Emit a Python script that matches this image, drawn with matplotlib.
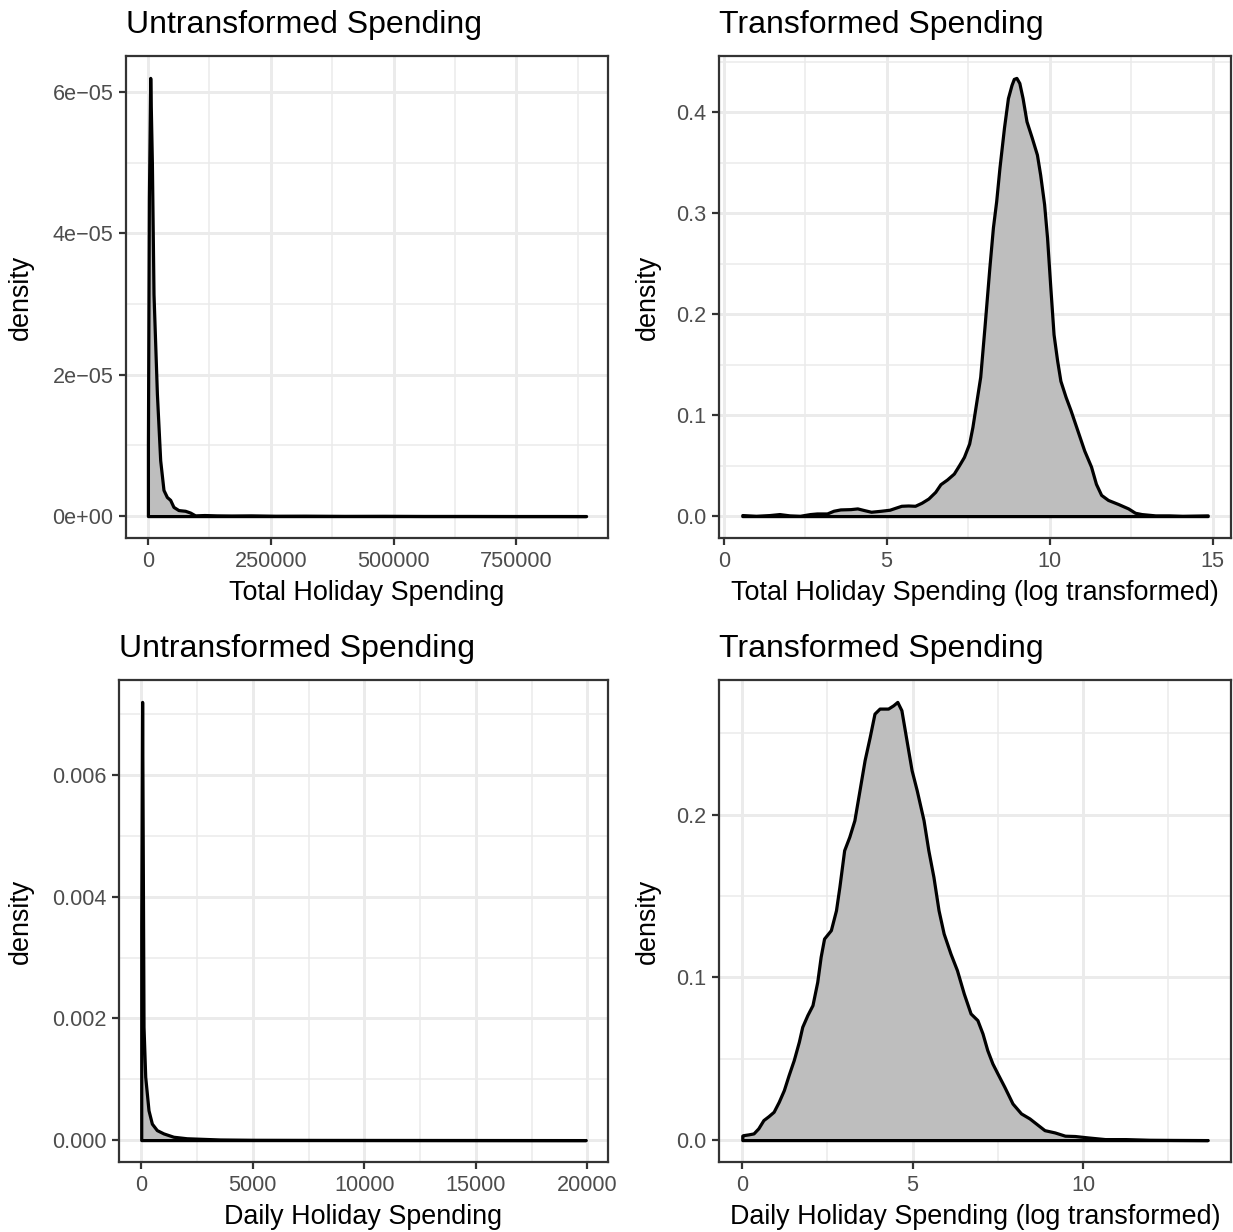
import matplotlib
matplotlib.use("Agg")
import matplotlib.pyplot as plt
import matplotlib.transforms as mtransforms
from matplotlib.ticker import MultipleLocator, FixedLocator, FixedFormatter

plt.rcParams['font.family'] = ['Liberation Sans', 'DejaVu Sans']

# ---------------- data (density curves) ----------------
total_raw_x = [0, 2000, 4700, 8100, 11400, 18300, 25000, 31700, 38600, 45300, 52000,
               62200, 75800, 86000, 96100, 115000, 140000, 170000, 210000, 260000,
               320000, 400000, 480000, 560000, 650000, 750000, 830000, 892000]
total_raw_y = [1.0e-5, 4.5e-5, 6.2e-5, 5.0e-5, 3.14e-5, 1.73e-5, 0.79e-5, 0.37e-5, 0.27e-5,
               0.23e-5, 0.13e-5, 0.085e-5, 0.075e-5, 0.05e-5, 0.01e-5, 0.015e-5, 0.01e-5,
               0.008e-5, 0.01e-5, 0.005e-5, 0.006e-5, 0.003e-5, 0.004e-5, 0.002e-5,
               0.002e-5, 0.001e-5, 0.001e-5, 0.0005e-5]

total_log_x = [0.57, 0.99, 1.40, 1.71, 2.02, 2.34, 2.65, 2.86, 3.17, 3.37, 3.58, 3.89,
               4.10, 4.31, 4.52, 4.83, 5.09, 5.30, 5.45, 5.66, 5.87, 6.07, 6.28, 6.49,
               6.65, 6.85, 7.06, 7.22, 7.37, 7.53, 7.63, 7.74, 7.87, 8.00, 8.15, 8.26,
               8.36, 8.46, 8.60, 8.72, 8.83, 8.90, 8.98, 9.07, 9.17, 9.29, 9.45, 9.61,
               9.71, 9.83, 9.92, 10.02, 10.12, 10.23, 10.33, 10.49, 10.64, 10.85, 11.06,
               11.27, 11.42, 11.58, 11.79, 12.10, 12.41, 12.62, 12.82, 13.24, 13.66,
               14.07, 14.85]
total_log_y = [0.001, 0.0003, 0.001, 0.002, 0.0007, 0.0003, 0.002, 0.0026, 0.0026, 0.0053,
               0.0066, 0.0069, 0.0076, 0.0059, 0.0043, 0.0053, 0.0063, 0.0086, 0.0102,
               0.0105, 0.0102, 0.0132, 0.0174, 0.024, 0.0316, 0.0362, 0.0421, 0.0504,
               0.0586, 0.0718, 0.0882, 0.111, 0.138, 0.187, 0.246, 0.286, 0.312, 0.345,
               0.385, 0.414, 0.427, 0.433, 0.434, 0.429, 0.414, 0.391, 0.375, 0.358,
               0.338, 0.309, 0.276, 0.227, 0.180, 0.154, 0.134, 0.118, 0.105, 0.085,
               0.065, 0.049, 0.032, 0.021, 0.016, 0.012, 0.0076, 0.0033, 0.002, 0.0007,
               0.0007, 0.0003, 0.0007]

daily_raw_x = [0, 40, 103, 179, 326, 477, 700, 996, 1442, 2040, 3527, 5000, 8000, 12000,
               16000, 19930]
daily_raw_y = [0.0035, 0.0072, 0.00186, 0.00104, 0.00049, 0.00027, 0.000164, 0.00011,
               0.000055, 0.00003, 0.00001, 0.000005, 0.000003, 0.000002, 0.000001, 0.0]

daily_log_x = [0, 0.02, 0.18, 0.33, 0.47, 0.62, 0.77, 0.92, 1.07, 1.22, 1.36, 1.51, 1.66,
               1.76, 1.91, 2.06, 2.20, 2.30, 2.40, 2.60, 2.75, 2.85, 2.99, 3.14, 3.29,
               3.44, 3.59, 3.74, 3.88, 4.03, 4.28, 4.43, 4.55, 4.67, 4.82, 4.97, 5.12,
               5.32, 5.46, 5.61, 5.76, 5.91, 6.11, 6.30, 6.50, 6.70, 6.90, 7.05, 7.19,
               7.34, 7.49, 7.69, 7.93, 8.18, 8.43, 8.68, 8.87, 9.17, 9.47, 9.76, 10.16,
               10.65, 11.25, 11.94, 12.63, 13.66]
daily_log_y = [0.0027, 0.003, 0.0035, 0.0041, 0.0072, 0.0123, 0.0147, 0.0174, 0.0235,
               0.0307, 0.0399, 0.0491, 0.0604, 0.0696, 0.0768, 0.0829, 0.0972, 0.1126,
               0.1238, 0.129, 0.1412, 0.1556, 0.1781, 0.1863, 0.1965, 0.2149, 0.2334,
               0.2477, 0.262, 0.2651, 0.2651, 0.2671, 0.2692, 0.2641, 0.2456, 0.2272,
               0.2149, 0.1965, 0.1781, 0.1617, 0.1412, 0.1269, 0.1146, 0.1044, 0.0901,
               0.0778, 0.0737, 0.0655, 0.0553, 0.0471, 0.0409, 0.0328, 0.0225, 0.0164,
               0.0133, 0.0092, 0.0061, 0.0047, 0.0027, 0.0025, 0.0016, 0.0006, 0.0006,
               0.0002, 0.0001, 0.0]

titles = ["Untransformed Spending", "Transformed Spending",
          "Untransformed Spending", "Transformed Spending"]
xlabels = ["Total Holiday Spending", "Total Holiday Spending (log transformed)",
           "Daily Holiday Spending", "Daily Holiday Spending (log transformed)"]
ylabel = "density"

tl_xticks = [0, 250000, 500000, 750000]
tl_xticklabels = ["0", "250000", "500000", "750000"]
tl_yticks = [0, 2e-5, 4e-5, 6e-5]
tl_yticklabels = ["0e+00", "2e\u221205", "4e\u221205", "6e\u221205"]

tr_xticks = [0, 5, 10, 15]
tr_xticklabels = ["0", "5", "10", "15"]
tr_yticks = [0, 0.1, 0.2, 0.3, 0.4]
tr_yticklabels = ["0.0", "0.1", "0.2", "0.3", "0.4"]

bl_xticks = [0, 5000, 10000, 15000, 20000]
bl_xticklabels = ["0", "5000", "10000", "15000", "20000"]
bl_yticks = [0, 0.002, 0.004, 0.006]
bl_yticklabels = ["0.000", "0.002", "0.004", "0.006"]

br_xticks = [0, 5, 10]
br_xticklabels = ["0", "5", "10"]
br_yticks = [0, 0.1, 0.2]
br_yticklabels = ["0.0", "0.1", "0.2"]

# ---------------- layout ----------------
W, H = 1233, 1232
fig = plt.figure(figsize=(W / 100, H / 100), dpi=100)
fig.patch.set_facecolor('white')


def px_axes(l, r, t, b):
    return fig.add_axes([l / W, 1 - b / H, (r - l) / W, (b - t) / H])


def expand(lo, hi, f=0.05):
    d = (hi - lo) * f
    return lo - d, hi + d


def style(ax, x, y, xt, xtl, xminor, yt, ytl, yminor, title, xlabel,
          ylab_x, xlab_y):
    ax.set_facecolor('white')
    ax.fill_between(x, y, 0, facecolor='#BEBEBE', edgecolor='black',
                    linewidth=2.3, joinstyle='round', zorder=3)
    ax.set_xlim(*expand(min(x), max(x)))
    ax.set_ylim(*expand(0, max(y)))
    ax.xaxis.set_major_locator(FixedLocator(xt))
    ax.xaxis.set_major_formatter(FixedFormatter(xtl))
    ax.yaxis.set_major_locator(FixedLocator(yt))
    ax.yaxis.set_major_formatter(FixedFormatter(ytl))
    ax.xaxis.set_minor_locator(MultipleLocator(xminor))
    ax.yaxis.set_minor_locator(MultipleLocator(yminor))
    ax.grid(which='major', color='#EBEBEB', linewidth=2.1, zorder=0)
    ax.grid(which='minor', color='#EBEBEB', linewidth=1.1, zorder=0)
    ax.set_axisbelow(True)
    ax.tick_params(which='major', length=4.8, width=1.6, color='#333333',
                   labelcolor='#4D4D4D', labelsize=15.6, pad=4.3)
    ax.tick_params(which='minor', length=0, width=0)
    for s in ax.spines.values():
        s.set_color('#333333')
        s.set_linewidth(1.6)
        s.set_zorder(5)
    ax.set_title(title, loc='left', fontsize=23, pad=16.5, color='black')
    ax.set_xlabel(xlabel, fontsize=19.4, color='black', va='baseline')
    ax.set_ylabel(ylabel, fontsize=19.4, color='black', va='baseline')
    ax.xaxis.set_label_coords(
        0.5, 1 - xlab_y / H,
        transform=mtransforms.blended_transform_factory(ax.transAxes, fig.transFigure))
    ax.yaxis.set_label_coords(
        ylab_x / W, 0.5,
        transform=mtransforms.blended_transform_factory(fig.transFigure, ax.transAxes))


ax1 = px_axes(126, 608, 56, 538)
style(ax1, total_raw_x, total_raw_y, tl_xticks, tl_xticklabels, 125000,
      tl_yticks, tl_yticklabels, 1e-5, titles[0], xlabels[0], 28, 600)

ax2 = px_axes(719, 1231, 56, 538)
style(ax2, total_log_x, total_log_y, tr_xticks, tr_xticklabels, 2.5,
      tr_yticks, tr_yticklabels, 0.05, titles[1], xlabels[1], 655, 600)

ax3 = px_axes(119, 608, 680, 1162)
style(ax3, daily_raw_x, daily_raw_y, bl_xticks, bl_xticklabels, 2500,
      bl_yticks, bl_yticklabels, 0.001, titles[2], xlabels[2], 28, 1224)

ax4 = px_axes(719, 1231, 680, 1162)
style(ax4, daily_log_x, daily_log_y, br_xticks, br_xticklabels, 2.5,
      br_yticks, br_yticklabels, 0.05, titles[3], xlabels[3], 655, 1224)

fig.savefig('out.png', dpi=100, facecolor='white')
